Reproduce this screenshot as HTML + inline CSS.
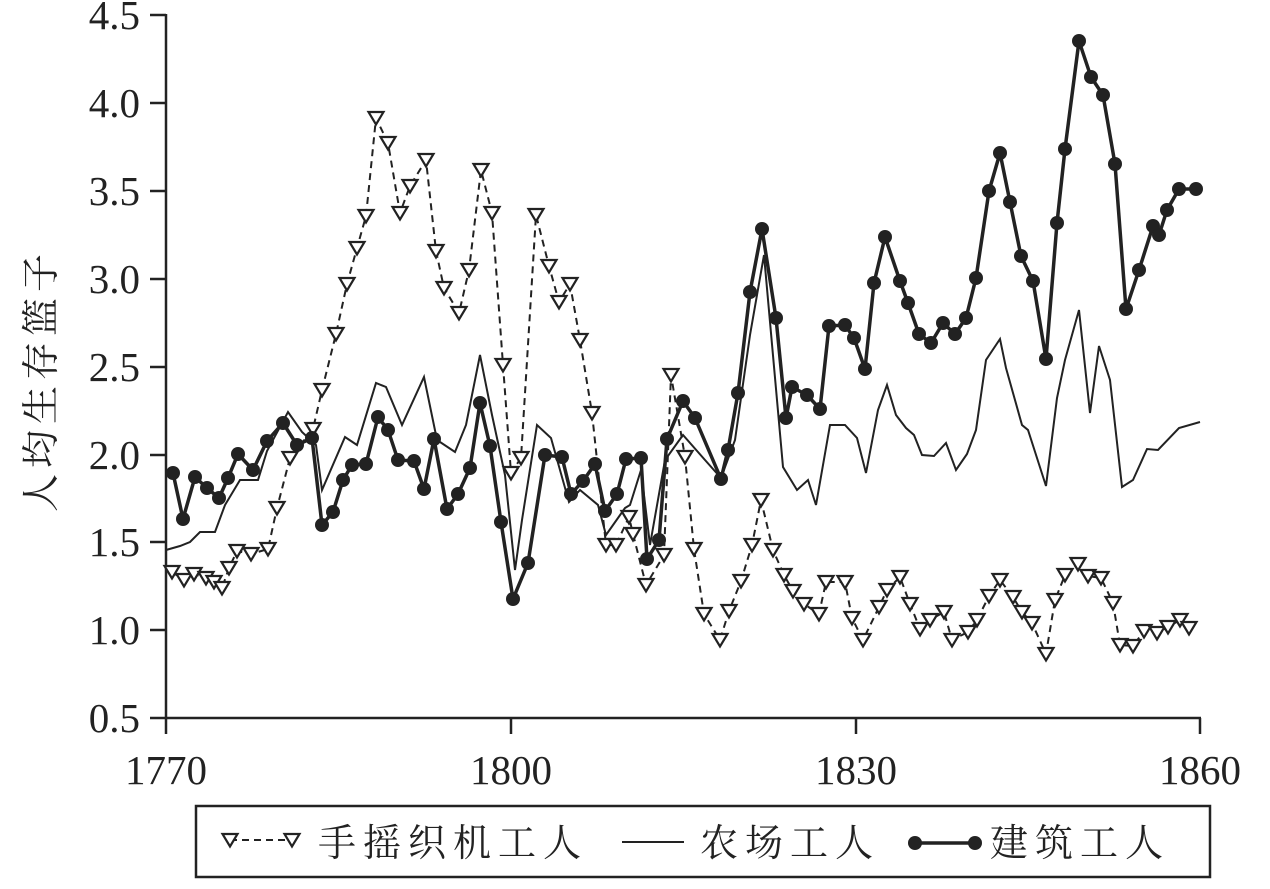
<!DOCTYPE html>
<html><head><meta charset="utf-8"><style>
body{margin:0;background:#fff}
svg text{font-family:"Liberation Serif","Noto Serif CJK SC",serif;fill:#222}
</style></head><body>
<svg width="1270" height="884" viewBox="0 0 1270 884" xmlns="http://www.w3.org/2000/svg">
<defs>
<marker id="tri" viewBox="-10 -10 20 20" markerWidth="20" markerHeight="20" markerUnits="userSpaceOnUse">
<path d="M-7.5,-6 L7.5,-6 L0,6.5 Z" fill="#fff" stroke="#222" stroke-width="2.2"/></marker>
<marker id="dot" viewBox="-8 -8 16 16" markerWidth="16" markerHeight="16" markerUnits="userSpaceOnUse">
<circle r="7" fill="#222"/></marker>
</defs>
<g stroke="#222" stroke-width="2.5" fill="none">
<line x1="166" y1="14" x2="166" y2="719"/>
<line x1="165" y1="718" x2="1201" y2="718"/>
<line x1="150" y1="15" x2="166" y2="15"/>
<line x1="150" y1="103" x2="166" y2="103"/>
<line x1="150" y1="191" x2="166" y2="191"/>
<line x1="150" y1="279" x2="166" y2="279"/>
<line x1="150" y1="367" x2="166" y2="367"/>
<line x1="150" y1="455" x2="166" y2="455"/>
<line x1="150" y1="542" x2="166" y2="542"/>
<line x1="150" y1="630" x2="166" y2="630"/>
<line x1="150" y1="718" x2="166" y2="718"/>
<line x1="166" y1="718" x2="166" y2="734"/>
<line x1="511" y1="718" x2="511" y2="734"/>
<line x1="856" y1="718" x2="856" y2="734"/>
<line x1="1200" y1="718" x2="1200" y2="734"/>
</g>
<g font-size="41" text-anchor="end">
<text x="140" y="29">4.5</text><text x="140" y="117">4.0</text><text x="140" y="205">3.5</text>
<text x="140" y="293">3.0</text><text x="140" y="381">2.5</text><text x="140" y="469">2.0</text>
<text x="140" y="556">1.5</text><text x="140" y="644">1.0</text><text x="140" y="732">0.5</text>
</g>
<g font-size="41" text-anchor="middle">
<text x="166" y="784">1770</text><text x="511" y="784">1800</text><text x="856" y="784">1830</text><text x="1200" y="784">1860</text>
</g>
<text transform="translate(54,380) rotate(-90)" font-size="38" text-anchor="middle" letter-spacing="6">人均生存篮子</text>

<polyline fill="none" stroke="#222" stroke-width="2" points="166,550 180,546 190,542 200,532 215,532 225,505 240,480 258,480 267,451 288,412 302,432 316,445 322,490 345,437 357,445 376,383 386,387 402,425 424,377 437,440 455,452 466,425 480,355 492,415 505,475 515,570 522,520 537,425 551,438 569,502 580,490 598,505 606,535 625,508 630,505 641,470 650,545 665,460 683,435 705,460 721,478 735,440 750,335 764,255 783,467 797,490 808,480 816,505 830,425 845,425 857,438 866,473 878,410 887,385 896,415 906,428 914,435 922,455 934,456 946,443 956,470 967,454 976,430 986,360 1000,339 1006,368 1022,425 1028,430 1046,486 1057,398 1065,360 1079,310 1090,413 1099,346 1110,380 1122,487 1133,480 1147,449 1158,450 1179,428 1200,422"/>

<polyline fill="none" stroke="#222" stroke-width="2" stroke-dasharray="7,5" marker-start="url(#tri)" marker-mid="url(#tri)" marker-end="url(#tri)" points="172,572 184,580 194,574 206,578 214,582 222,588 229,568 237,551 251,554 268,549 277,508 290,458 313,429 322,390 336,334 347,284 357,248 366,216 376,118 388,143 400,213 410,186 426,160 436,251 444,288 459,313 469,270 481,170 492,213 503,365 511,473 521,458 536,215 549,266 559,302 570,284 580,340 592,413 606,545 616,545 629,517 633,534 646,585 664,555 671,375 685,457 694,549 704,614 720,640 729,611 741,581 752,545 761,500 773,550 784,575 793,591 804,604 819,614 826,582 845,582 852,618 863,640 879,607 887,590 900,577 910,604 920,629 930,620 944,612 952,640 968,632 977,620 989,596 1000,580 1013,597 1022,612 1032,623 1046,654 1055,600 1065,575 1078,564 1088,576 1101,578 1113,603 1120,645 1133,646 1144,631 1157,633 1168,627 1180,620 1189,628"/>

<polyline fill="none" stroke="#222" stroke-width="3.5" stroke-linejoin="round" marker-start="url(#dot)" marker-mid="url(#dot)" marker-end="url(#dot)" points="173,473 183,519 195,477 207,488 219,498 228,478 238,454 253,470 267,441 283,423 297,445 312,438 322,525 333,512 343,480 352,465 366,464 378,417 388,430 398,460 414,461 424,489 434,439 447,509 458,494 470,468 480,403 490,446 501,522 513,599 528,563 545,455 562,457 571,494 583,481 595,464 605,511 617,494 626,459 641,458 647,559 659,540 667,439 683,401 695,418 721,479 728,450 738,393 750,292 762,229 776,318 786,418 792,387 807,395 820,409 829,326 845,325 854,338 865,369 874,283 885,237 900,281 908,303 919,334 931,343 943,323 955,334 966,318 976,278 989,191 1000,153 1010,202 1021,256 1033,281 1046,359 1057,223 1065,149 1079,41 1091,77 1103,95 1115,164 1126,309 1139,270 1153,226 1159,235 1167,210 1179,189 1196,189"/>

<rect x="196" y="806" width="1014" height="71" fill="none" stroke="#222" stroke-width="2.5"/>
<polyline fill="none" stroke="#222" stroke-width="2" stroke-dasharray="7,5" marker-start="url(#tri)" marker-end="url(#tri)" points="230,840 292,840"/>
<text x="318" y="856" font-size="38" letter-spacing="7">手摇织机工人</text>
<line x1="622" y1="842" x2="684" y2="842" stroke="#222" stroke-width="2"/>
<text x="700" y="856" font-size="38" letter-spacing="7">农场工人</text>
<polyline fill="none" stroke="#222" stroke-width="3.5" marker-start="url(#dot)" marker-end="url(#dot)" points="915,843 975,843"/>
<text x="990" y="856" font-size="38" letter-spacing="7">建筑工人</text>
</svg>
</body></html>
